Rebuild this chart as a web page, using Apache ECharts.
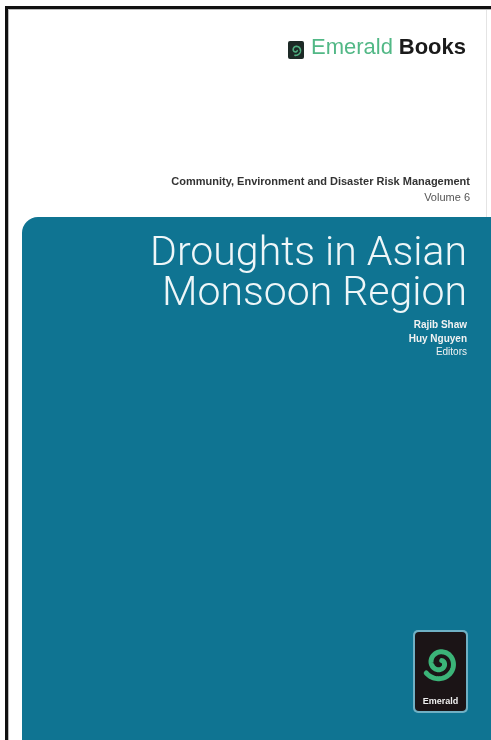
<!DOCTYPE html>
<html><head><meta charset="utf-8">
<script src="https://cdn.jsdelivr.net/npm/echarts@6/dist/echarts.min.js"></script>
<style>html,body{margin:0;padding:0;background:#fff}#c{width:491px;height:740px}</style>
</head><body><div id="c"></div>
<script>
const brandWords = ['Emerald', 'Books'];
const seriesLine = ['Community, Environment and Disaster Risk Management', 'Volume 6'];
const titleLines = ['Droughts in Asian', 'Monsoon Region'];
const editors = ['Rajib Shaw', 'Huy Nguyen'];
const editorsLabel = ['Editors'];
const logoText = ['Emerald'];

const teal = '#0f7492';
const chart = echarts.init(document.getElementById('c'), null, {renderer: 'canvas'});

function spiralPoints(cx, cy, r0, r1, turns, start) {
  const pts = [];
  const n = 120;
  for (let i = 0; i <= n; i++) {
    const t = i / n;
    const a = start + t * turns * 2 * Math.PI;
    const r = r0 + (r1 - r0) * t;
    pts.push([cx + r * Math.cos(a), cy + r * Math.sin(a)]);
  }
  return pts;
}

const g = [];
// page background and frame
g.push({type: 'rect', shape: {x: 0, y: 0, width: 491, height: 740}, style: {fill: '#fff'}});
g.push({type: 'rect', shape: {x: 486, y: 10, width: 1, height: 730}, style: {fill: '#e4e4e4'}});
g.push({type: 'rect', shape: {x: 5, y: 6, width: 486, height: 3}, style: {fill: '#111'}});
g.push({type: 'rect', shape: {x: 5, y: 6, width: 3, height: 734}, style: {fill: '#111'}});
g.push({type: 'rect', shape: {x: 8, y: 9, width: 483, height: 1}, style: {fill: '#bbb'}});
g.push({type: 'rect', shape: {x: 8, y: 9, width: 1, height: 731}, style: {fill: '#bbb'}});

// header brand
g.push({type: 'rect', shape: {x: 288, y: 41, width: 16, height: 18, r: 2}, style: {fill: '#1d2a26'}});
g.push({type: 'polyline', shape: {points: spiralPoints(296, 50, 1, 5.5, 1.3, 0)}, style: {stroke: '#4fae80', lineWidth: 1.6, fill: null}});
g.push({type: 'text', x: 311, y: 59, style: {text: brandWords[0], font: '22px "Liberation Sans", Arial, sans-serif', fill: '#52b886', textVerticalAlign: 'bottom'}});
g.push({type: 'text', x: 466, y: 59, style: {text: brandWords[1], font: 'bold 22px "Liberation Sans", Arial, sans-serif', fill: '#1a1a1a', textAlign: 'right', textVerticalAlign: 'bottom'}});

// series line
g.push({type: 'text', x: 470, y: 187, style: {text: seriesLine[0], font: 'bold 11px "Liberation Sans", Arial, sans-serif', fill: '#333', textAlign: 'right', textVerticalAlign: 'bottom'}});
g.push({type: 'text', x: 470, y: 203, style: {text: seriesLine[1], font: '11px "Liberation Sans", Arial, sans-serif', fill: '#555', textAlign: 'right', textVerticalAlign: 'bottom'}});

// teal panel
g.push({type: 'rect', shape: {x: 22, y: 217, width: 469, height: 523, r: [16, 0, 0, 0]}, style: {fill: teal}});

// title
titleLines.forEach((t, i) => {
  g.push({type: 'text', x: 467, y: 234 + i * 40, style: {text: t, font: '300 41px Roboto, "Liberation Sans", sans-serif', fill: '#eef6f8', textAlign: 'right', textVerticalAlign: 'top'}});
});
editors.forEach((t, i) => {
  g.push({type: 'text', x: 467, y: 325 + i * 14, style: {text: t, font: 'bold 10px "Liberation Sans", Arial, sans-serif', fill: '#f2f2f2', textAlign: 'right', textVerticalAlign: 'middle'}});
});
g.push({type: 'text', x: 467, y: 352, style: {text: editorsLabel[0], font: '10px "Liberation Sans", Arial, sans-serif', fill: '#f2f2f2', textAlign: 'right', textVerticalAlign: 'middle'}});

// logo badge
g.push({type: 'rect', shape: {x: 413, y: 630, width: 55, height: 83, r: 5}, style: {fill: '#6fb0c4'}});
g.push({type: 'rect', shape: {x: 415, y: 632, width: 51, height: 79, r: 4}, style: {fill: '#1b1416'}});
g.push({type: 'polyline', shape: {points: spiralPoints(440, 663, 3, 17, 1.55, -0.3 * Math.PI)}, style: {stroke: '#3bb478', lineWidth: 5, fill: null, lineCap: 'round'}});
g.push({type: 'text', x: 440.5, y: 702, style: {text: logoText[0], font: 'bold 9px "Liberation Sans", Arial, sans-serif', fill: '#f0f0f0', textAlign: 'center', textVerticalAlign: 'middle'}});

chart.setOption({animation: false, graphic: {elements: g}});
</script></body></html>
